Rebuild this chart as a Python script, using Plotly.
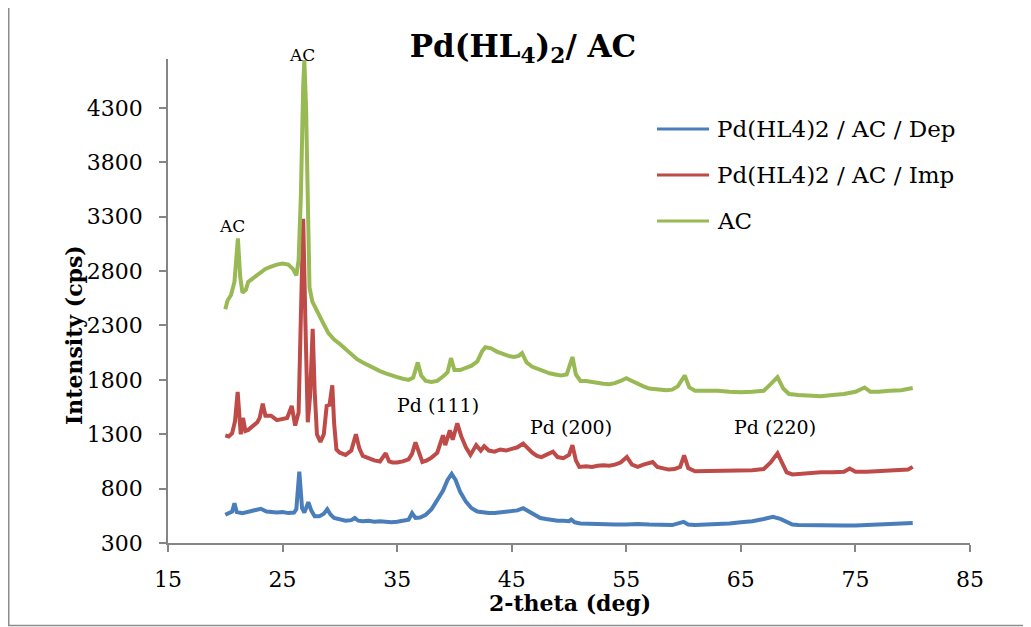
import plotly.graph_objects as go

# ---------------- data ----------------
dep_x = [20.0, 20.4, 20.6, 20.8, 21.0, 21.5, 22.0, 22.5, 23.1, 23.6, 24.0, 24.5, 25.0, 25.5, 26.0, 26.2,
         26.46, 26.7, 26.9, 27.25, 27.5, 27.8, 28.2, 28.6, 28.9, 29.2, 29.5, 30.0, 30.5, 31.0, 31.3, 31.6,
         32.0, 32.5, 33.0, 33.5, 34.0, 34.5, 35.0, 35.5, 36.0, 36.3, 36.6, 37.0, 37.5, 38.0, 38.5, 39.0,
         39.4, 39.76, 40.1, 40.5, 41.0, 41.5, 42.0, 42.5, 43.0, 43.5, 44.0, 44.5, 45.0, 45.5, 46.0, 46.5,
         47.0, 47.5, 48.0, 48.5, 49.0, 49.5, 50.0, 50.2, 50.5, 51.0, 52.0, 53.0, 54.0, 55.0, 56.0, 57.0,
         58.0, 59.0, 60.0, 60.4, 61.0, 62.0, 63.0, 64.0, 65.0, 66.0, 67.0, 67.8, 68.5, 69.0, 69.5, 70.0,
         71.0, 72.0, 73.0, 74.0, 75.0, 76.0, 77.0, 78.0, 79.0, 80.0]
dep_y = [560, 575, 590, 665, 585, 575, 590, 600, 615, 590, 585, 580, 585, 575, 580, 610,
         955, 620, 580, 675, 600, 545, 545, 570, 610, 560, 530, 515, 505, 510, 530, 505,
         500, 505, 495, 500, 495, 490, 495, 505, 515, 575, 530, 535, 560, 610, 690, 780,
         880, 935, 880, 770, 680, 620, 590, 580, 575, 575, 580, 585, 590, 600, 620, 590,
         550, 530, 520, 510, 505, 505, 500, 515, 490, 480, 475, 475, 470, 470, 475, 470,
         470, 465, 495, 470, 465, 468, 470, 480, 490, 500, 520, 540, 520, 490, 470, 465,
         462, 460, 460, 460, 462, 465, 470, 475, 478, 485]

imp_x = [20.0, 20.3, 20.6, 20.85, 21.08, 21.25, 21.35, 21.55, 21.75, 22.0, 22.4, 22.8, 23.0, 23.27, 23.5,
         24.0, 24.5, 25.0, 25.4, 25.8, 26.1, 26.4, 26.6, 26.8, 27.0, 27.2, 27.4, 27.63, 27.8, 28.0,
         28.3, 28.6, 28.85, 29.1, 29.34, 29.5, 29.7, 30.0, 30.5, 31.0, 31.4, 31.7, 32.0, 32.5, 33.0,
         33.5, 34.0, 34.3, 34.6, 35.0, 35.5, 36.0, 36.3, 36.6, 36.9, 37.2, 37.6, 38.0, 38.5, 39.0,
         39.2, 39.6, 39.85, 40.25, 40.6, 41.0, 41.4, 41.9, 42.3, 42.6, 43.0, 43.5, 44.0, 44.5, 45.0,
         45.5, 46.0, 46.4, 46.8, 47.2, 47.6, 48.0, 48.6, 49.0, 49.5, 50.0, 50.3, 50.6, 50.9, 51.5,
         52.0, 52.5, 53.0, 53.5, 54.0, 54.5, 55.05, 55.5, 56.0, 56.5, 57.0, 57.3, 57.7, 58.2, 58.7,
         59.2, 59.7, 60.05, 60.4, 61.0, 62.0, 63.0, 64.0, 65.0, 66.0, 67.0, 67.6, 68.2, 68.6, 69.0,
         69.5, 70.0, 71.0, 72.0, 73.0, 74.0, 74.5, 75.0, 76.0, 77.0, 78.0, 79.0, 79.6, 80.0]
imp_y = [1290, 1280, 1310, 1420, 1690, 1420, 1300, 1450, 1330, 1340, 1370, 1410, 1450, 1580, 1470,
         1470, 1430, 1440, 1450, 1560, 1380, 1500, 2300, 3280, 2300, 1410, 1650, 2270, 1700, 1300,
         1230, 1300, 1560, 1570, 1750, 1400, 1160, 1130, 1110, 1150, 1300, 1170, 1100, 1080, 1060,
         1050, 1125, 1050, 1040, 1040, 1050, 1070, 1120, 1225, 1140, 1045, 1060, 1085, 1130, 1290,
         1200, 1335, 1250, 1400, 1280, 1180, 1110, 1200, 1150, 1190, 1150, 1140, 1160, 1150, 1165,
         1180, 1215, 1170, 1130, 1100, 1090, 1110, 1140, 1090, 1080, 1110, 1200, 1060, 1000, 1005,
         1000, 1010, 1015, 1010, 1020, 1040, 1090, 1020, 1000, 1020, 1040, 1045, 1000, 985, 975,
         980, 1000, 1105, 990, 960, 960, 965, 960, 962, 968, 980, 1040, 1125, 1030, 950,
         930, 935, 945, 950, 950, 955, 985, 955, 955, 960, 960, 965, 975, 1000]

ac_x = [20.0, 20.2, 20.5, 20.8, 21.1, 21.3, 21.5, 21.8, 22.0, 22.5, 23.0, 23.5, 24.0, 24.5, 25.0,
        25.5, 25.9, 26.2, 26.4, 26.6, 26.8, 26.9, 27.05, 27.2, 27.35, 27.6, 28.0, 28.5, 29.0, 29.5,
        30.0, 30.5, 31.0, 31.5, 32.0, 32.5, 33.0, 33.5, 34.0, 34.5, 35.0, 35.5, 36.0, 36.4, 36.8,
        37.1, 37.5, 38.0, 38.5, 39.0, 39.4, 39.7, 40.0, 40.5, 41.0, 41.5, 42.0, 42.4, 42.7, 43.2,
        43.7, 44.2, 44.7, 45.2, 45.6, 45.9, 46.3, 46.8, 47.3, 47.8, 48.3, 48.8, 49.3, 49.8, 50.1,
        50.3, 50.6, 51.0, 51.5, 52.0, 52.5, 53.0, 53.5, 54.0, 54.5, 55.0, 55.5, 56.0, 56.5, 57.0,
        57.5, 58.0, 58.5, 59.0, 59.5, 60.1, 60.5, 61.0, 62.0, 63.0, 64.0, 65.0, 66.0, 67.0, 67.6,
        68.2, 68.7, 69.2, 70.0, 71.0, 72.0, 73.0, 74.0, 75.0, 75.8, 76.3, 77.0, 78.0, 79.0, 80.0]
ac_y = [2450, 2530, 2580, 2700, 3100, 2750, 2600, 2630, 2700, 2740, 2790, 2820, 2840, 2860, 2870,
        2860, 2820, 2760, 2900, 3500, 4500, 4740, 4300, 3200, 2650, 2520, 2430, 2330, 2230, 2170,
        2130, 2080, 2030, 1990, 1960, 1930, 1910, 1880, 1860, 1840, 1825, 1810, 1800, 1820, 1960,
        1840, 1790, 1780, 1790, 1830, 1870, 2000, 1890, 1890, 1910, 1930, 1970, 2060, 2100, 2090,
        2060, 2040, 2020, 2010, 2020, 2045, 1960, 1920, 1900, 1880, 1860, 1850, 1840, 1850, 1950,
        2010, 1850, 1790, 1790, 1780, 1770, 1765, 1760, 1770, 1790, 1815, 1790, 1760, 1740, 1720,
        1715, 1710, 1705, 1710, 1740, 1840, 1730, 1700, 1700, 1700, 1690, 1685, 1690, 1700, 1760,
        1825, 1720, 1670, 1660, 1655, 1650, 1660, 1670, 1690, 1730, 1690, 1690, 1700, 1705, 1725]

series_names = ["Pd(HL4)2 / AC / Dep", "Pd(HL4)2 / AC / Imp", "AC"]
series_colors = ["#4a7ebb", "#be4b48", "#98b954"]

y_ticks = [300, 800, 1300, 1800, 2300, 2800, 3300, 3800, 4300]
x_ticks = [15, 25, 35, 45, 55, 65, 75, 85]
y_range = [300, 4750]
x_range = [15, 85]

peak_labels = ["AC", "AC", "Pd (111)", "Pd (200)", "Pd (220)"]
peak_label_x = [26.7, 20.6, 38.6, 50.2, 68.0]
peak_label_y = [4785, 3213, 1568, 1366, 1366]
peak_label_size = [17, 17, 19, 19, 19]

FONT = "DejaVu Serif"
AXIS_COLOR = "#868686"

# The page body has an 8 px margin, so the figure is drawn 8 px in from the window corner.
OFF = 8
W, H = 1031 - OFF, 627 - OFF
PLOT_L, PLOT_R, PLOT_T, PLOT_B = 168, 970, 59, 543   # plot area in window pixels
L, R, T, B = PLOT_L - OFF, (W + OFF) - PLOT_R, PLOT_T - OFF, (H + OFF) - PLOT_B
pw, ph = W - L - R, H - T - B


def px_x(p):
    """window x pixel -> paper fraction"""
    return (p - PLOT_L) / pw


def px_y(p):
    """window y pixel -> paper fraction"""
    return (PLOT_B - p) / ph


# ---------------- figure ----------------
fig = go.Figure()
for xs, ys, name, col in zip([dep_x, imp_x, ac_x], [dep_y, imp_y, ac_y], series_names, series_colors):
    fig.add_trace(go.Scatter(x=xs, y=ys, mode="lines", name=name,
                             line=dict(color=col, width=4), showlegend=False))

fig.update_layout(
    width=W, height=H,
    margin=dict(l=L, r=R, t=T, b=B, autoexpand=False),
    paper_bgcolor="white", plot_bgcolor="white",
    font=dict(family=FONT, color="black"),
    title=dict(text="<b>Pd(HL<sub>4</sub>)<sub>2</sub>/ AC</b>",
               x=(523 - OFF) / W, xanchor="center", xref="container",
               y=1 - (46 - OFF) / H, yanchor="middle", yref="container",
               font=dict(family=FONT, size=31, color="black")),
    xaxis=dict(range=x_range, tickvals=x_ticks, showgrid=False, zeroline=False,
               showline=True, linecolor=AXIS_COLOR, linewidth=1.5,
               ticks="outside", ticklen=7, tickcolor=AXIS_COLOR, tickwidth=1.5,
               ticklabelstandoff=9,
               tickfont=dict(family=FONT, size=22, color="black")),
    yaxis=dict(range=y_range, tickvals=y_ticks, showgrid=False, zeroline=False,
               showline=True, linecolor=AXIS_COLOR, linewidth=1.5,
               ticks="outside", ticklen=7, tickcolor=AXIS_COLOR, tickwidth=1.5,
               ticklabelstandoff=12,
               tickfont=dict(family=FONT, size=22, color="black")),
    showlegend=False,
)

# peak labels (positioned by their 2-theta / intensity values)
for t, xv, yv, s in zip(peak_labels, peak_label_x, peak_label_y, peak_label_size):
    fig.add_annotation(x=(xv - x_range[0]) / (x_range[1] - x_range[0]),
                       y=(yv - y_range[0]) / (y_range[1] - y_range[0]),
                       xref="paper", yref="paper", text=t, showarrow=False,
                       font=dict(family=FONT, size=s, color="black"),
                       xanchor="center", yanchor="middle")

# axis titles
fig.add_annotation(x=px_x(570), y=px_y(603), xref="paper", yref="paper",
                   text="<b>2-theta (deg)</b>", showarrow=False,
                   font=dict(family=FONT, size=22, color="black"),
                   xanchor="center", yanchor="middle")
fig.add_annotation(x=px_x(74), y=px_y(335), xref="paper", yref="paper",
                   text="<b>Intensity (cps)</b>", showarrow=False, textangle=-90,
                   font=dict(family=FONT, size=22, color="black"),
                   xanchor="center", yanchor="middle")

# legend (sample lines + text)
legend_rows_y = [129, 175, 221]
for name, col, ry in zip(series_names, series_colors, legend_rows_y):
    fig.add_shape(type="line", xref="paper", yref="paper",
                  x0=px_x(657), x1=px_x(709), y0=px_y(ry), y1=px_y(ry),
                  line=dict(color=col, width=3))
    fig.add_annotation(x=px_x(715), y=px_y(ry), xref="paper", yref="paper",
                       text=name, showarrow=False, xanchor="left", yanchor="middle",
                       font=dict(family=FONT, size=23, color="black"))

# outer chart border
fig.add_shape(type="rect", xref="paper", yref="paper",
              x0=px_x(8.75), x1=px_x(1040), y0=px_y(625.5), y1=px_y(3),
              line=dict(color="#8c8c8c", width=1.5), fillcolor="rgba(0,0,0,0)", layer="below")

fig.write_html("out.html")
